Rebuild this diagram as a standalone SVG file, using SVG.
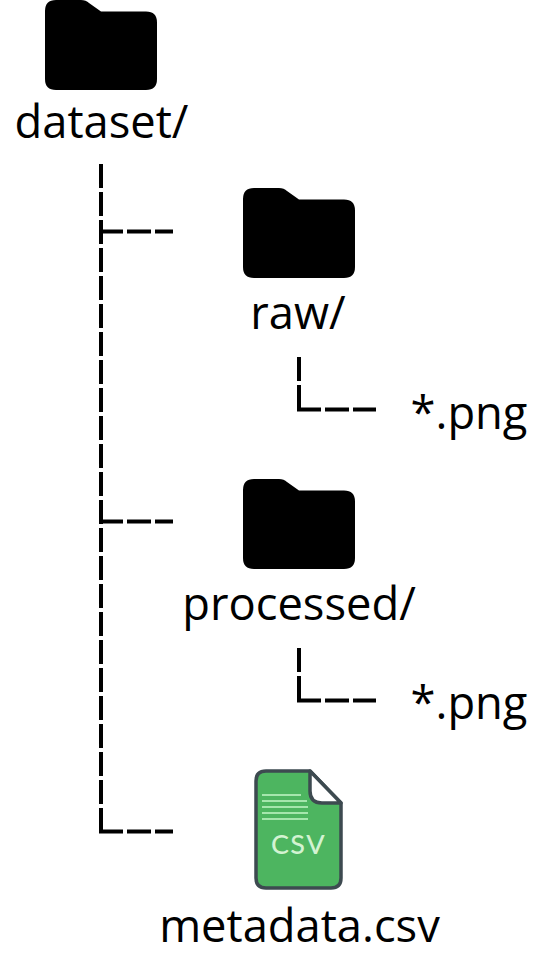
<svg xmlns="http://www.w3.org/2000/svg" width="542" height="967" viewBox="0 0 542 967">
<style>
.t{font-family:"Open Sans",sans-serif;font-size:45.3px;fill:#000;text-anchor:middle}
.c{fill:none;stroke:#000;stroke-width:4;stroke-dasharray:24 4}
</style>
<defs>
<path id="folder" d="M11 0H36Q41 0 44 3L56 11.500H101Q112 11.500 112 22.500V79Q112 90 101 90H11Q0 90 0 79V11Q0 0 11 0Z"/>
</defs>
<g id="connectors">
<path class="c" d="M101 164V831"/>
<path class="c" d="M99 231.500H173"/>
<path class="c" d="M99 521.500H173"/>
<path class="c" d="M99 831.500H173"/>
<path class="c" d="M299 357V411"/>
<path class="c" d="M297 409.500H376"/>
<path class="c" d="M299 648V702"/>
<path class="c" d="M297 700.500H376"/>
</g>
<g id="dataset"><use href="#folder" x="45" y="0"/><text class="t" x="101.500" y="138">dataset/</text></g>
<g id="raw"><use href="#folder" x="243" y="188"/><text class="t" x="298" y="329">raw/</text></g>
<g id="raw-png"><text class="t" x="469" y="429">*.png</text></g>
<g id="processed"><use href="#folder" x="243" y="479"/><text class="t" x="299" y="620">processed/</text></g>
<g id="processed-png"><text class="t" x="469" y="719">*.png</text></g>
<g id="metadata">
<path d="M266 771H310L341 803V878Q341 888 331 888H266Q256 888 256 878V781Q256 771 266 771Z" fill="#4db560" stroke="#3d4a50" stroke-width="3.500" stroke-linejoin="round"/>
<path d="M310 771L341 803H322Q310 803 310 791Z" fill="#fff" stroke="#3d4a50" stroke-width="3.500" stroke-linejoin="round"/>
<path d="M262 795H301M262 801H307M262 807H308M262 813H308M262 819H308" stroke="#a5e6ad" stroke-width="2" fill="none"/>
<text x="298.500" y="854" font-family="Lato,sans-serif" font-size="27" font-weight="500" letter-spacing="1.500" fill="#d3f3d2" text-anchor="middle">CSV</text>
<text class="t" x="299.500" y="942">metadata.csv</text>
</g>
</svg>
